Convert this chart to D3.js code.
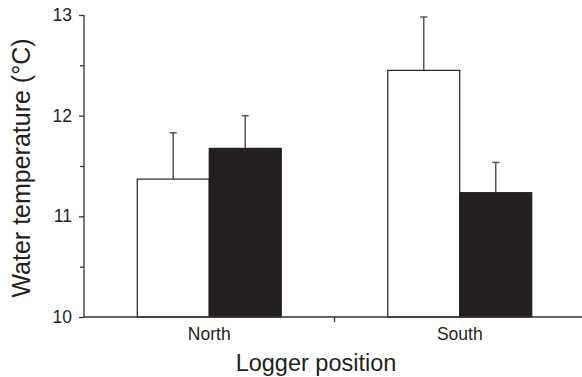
<!DOCTYPE html>
<html>
<head>
<meta charset="utf-8">
<script src="https://cdn.jsdelivr.net/npm/d3@7"></script>
<style>
  body { margin: 0; background: #fff; }
  svg text { font-family: "Liberation Sans", Arial, Helvetica, sans-serif; fill: #231f20; }
</style>
</head>
<body>
<div id="chart"></div>
<script>
// logger positions and the two series (white / black bars)
var positions = ["North", "South"];
var series = ["open", "filled"];
var meanOpen = [11.37, 12.45];
var errOpen = [0.46, 0.53];
var meanFilled = [11.675, 11.235];
var errFilled = [0.325, 0.30];
var yTicks = [10, 11, 12, 13];
var yMinorTicks = [10.5, 11.5, 12.5];

var width = 582,
    height = 377;

var svg = d3.select("#chart")
    .append("svg")
        .attr("width", width)
        .attr("height", height);

var y = d3.scaleLinear()
    .domain([10, 13])
    .range([317, 15]);

var x0 = d3.scaleBand()
    .domain(positions)
    .range([84, 585])
    .paddingInner(0)
    .paddingOuter(0);

var x1 = d3.scaleBand()
    .domain(series)
    .range([0, x0.bandwidth()])
    .paddingInner(0)
    .paddingOuter(0.74);

var rows = [];
positions.forEach(function(p, i) {
    rows.push({ pos: p, s: "open", value: meanOpen[i], err: errOpen[i] });
    rows.push({ pos: p, s: "filled", value: meanFilled[i], err: errFilled[i] });
});

/* error bars (upper only) */
var eb = svg.append("g")
    .selectAll("g")
    .data(rows)
    .enter().append("g")
        .attr("transform", function(d) {
            return "translate(" + (x0(d.pos) + x1(d.s) + x1.bandwidth() / 2) + ",0)";
        });

eb.append("line")
    .attr("x1", 0).attr("x2", 0)
    .attr("y1", function(d) { return y(d.value); })
    .attr("y2", function(d) { return y(d.value + d.err); })
    .attr("stroke", "#555")
    .attr("stroke-width", 1.5);

eb.append("line")
    .attr("x1", -3.5).attr("x2", 3.5)
    .attr("y1", function(d) { return y(d.value + d.err); })
    .attr("y2", function(d) { return y(d.value + d.err); })
    .attr("stroke", "#555")
    .attr("stroke-width", 1.5);

/* bars */
svg.append("g")
    .selectAll("rect")
    .data(rows)
    .enter().append("rect")
        .attr("x", function(d) { return x0(d.pos) + x1(d.s); })
        .attr("y", function(d) { return y(d.value); })
        .attr("width", x1.bandwidth())
        .attr("height", function(d) { return y(10) - y(d.value); })
        .attr("fill", function(d) { return d.s == "open" ? "#fff" : "#231f20"; })
        .attr("stroke", "#231f20")
        .attr("stroke-width", 1.2);

/* y axis */
var yAxis = svg.append("g")
    .attr("transform", "translate(84,0)")
    .call(d3.axisLeft(y).tickValues(yTicks).tickSize(5).tickPadding(7).tickFormat(d3.format("d")));

svg.append("g")
    .attr("transform", "translate(84,0)")
    .call(d3.axisLeft(y).tickValues(yMinorTicks).tickSize(4).tickFormat(""))
    .select(".domain").remove();

/* x axis */
var xAxis = svg.append("g")
    .attr("transform", "translate(0,317)")
    .call(d3.axisBottom(x0).tickSize(0).tickPadding(11));

svg.append("line")
    .attr("x1", x0("South")).attr("x2", x0("South"))
    .attr("y1", 317).attr("y2", 322)
    .attr("stroke", "#333")
    .attr("stroke-width", 1.3);

svg.selectAll(".domain, .tick line")
    .attr("stroke", "#333")
    .attr("stroke-width", 1.3);

xAxis.select(".domain").attr("d", "M84,0H585");
yAxis.select(".domain").attr("d", "M0,317V15");

svg.selectAll(".tick text")
    .style("font-size", "17.5px")
    .attr("fill", "#231f20");

/* axis titles */
svg.append("text")
    .attr("x", 316)
    .attr("y", 371)
    .attr("text-anchor", "middle")
    .style("font-size", "23.5px")
    .text("Logger position");

svg.append("text")
    .attr("transform", "translate(30,168) rotate(-90)")
    .attr("text-anchor", "middle")
    .style("font-size", "25px")
    .text("Water temperature (°C)");
</script>
</body>
</html>
